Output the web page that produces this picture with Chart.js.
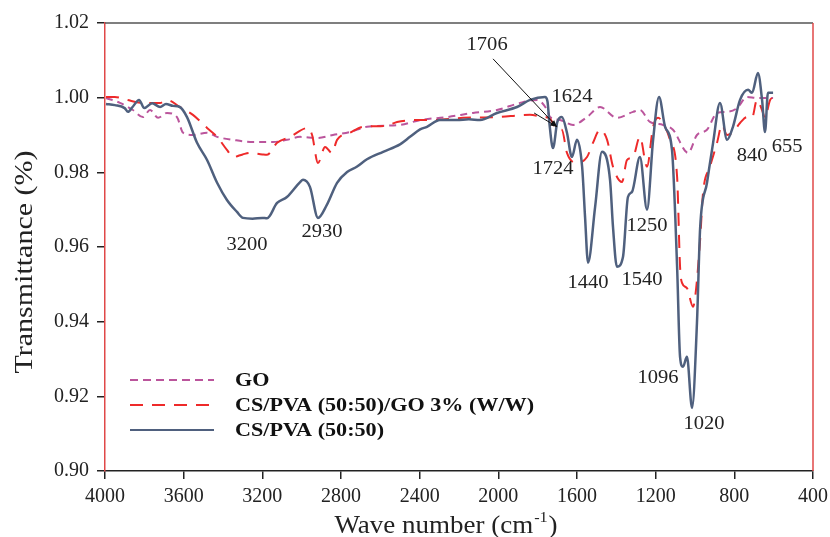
<!DOCTYPE html>
<html>
<head>
<meta charset="utf-8">
<title>FTIR spectra</title>
<script src="https://cdn.jsdelivr.net/npm/chart.js@4.4.1/dist/chart.umd.min.js"></script>
<style>
  html, body { margin: 0; padding: 0; background: #fff; }
  canvas { display: block; }
</style>
</head>
<body>
<canvas id="myChart" width="830" height="537"></canvas>
<script>
'use strict';

// Data

let xTicks = [4000, 3600, 3200, 2800, 2400, 2000, 1600, 1200, 800, 400];
let yTicks = [0.90, 0.92, 0.94, 0.96, 0.98, 1.00, 1.02];

let seriesNames = ['GO', 'CS/PVA (50:50)/GO 3% (W/W)', 'CS/PVA (50:50)'];

// GO
let goWn = [3995, 3924, 3858, 3807, 3771, 3730, 3685, 3634, 3603, 3553, 3481, 3430, 3349, 3247, 3146, 3075, 3008, 2922, 2841, 2754, 2668, 2500, 2398, 2261, 2129, 2007, 1890, 1803, 1752, 1737, 1686, 1620, 1549, 1483, 1397, 1315, 1280, 1229, 1162, 1112, 1035, 990, 939, 888, 837, 786, 736, 685, 603];
let goT = [0.9999, 0.9986, 0.9967, 0.9948, 0.9967, 0.9946, 0.9959, 0.9948, 0.9906, 0.9900, 0.9906, 0.9895, 0.9887, 0.9881, 0.9881, 0.9887, 0.9895, 0.9892, 0.9900, 0.9908, 0.9922, 0.9927, 0.9940, 0.9948, 0.9959, 0.9967, 0.9986, 0.9994, 0.9967, 0.9948, 0.9940, 0.9927, 0.9948, 0.9975, 0.9946, 0.9962, 0.9967, 0.9935, 0.9927, 0.9914, 0.9852, 0.9900, 0.9914, 0.9959, 0.9962, 0.9972, 1.0002, 0.9999, 0.9999];

// CS/PVA (50:50)/GO 3% (W/W)
let compWn = [3995, 3950, 3888, 3807, 3720, 3685, 3619, 3553, 3481, 3430, 3380, 3349, 3300, 3263, 3200, 3176, 3125, 3059, 2968, 2947, 2917, 2881, 2846, 2820, 2754, 2688, 2566, 2515, 2398, 2347, 2180, 2007, 1839, 1773, 1740, 1700, 1677, 1651, 1600, 1549, 1519, 1483, 1447, 1417, 1371, 1346, 1315, 1280, 1244, 1213, 1188, 1162, 1127, 1091, 1076, 1066, 1041, 1010, 995, 974, 959, 924, 888, 863, 837, 807, 771, 736, 710, 685, 659, 644, 618, 593];
let compT = [1.0002, 1.0002, 0.9994, 0.9986, 0.9986, 0.9994, 0.9975, 0.9954, 0.9919, 0.9895, 0.9860, 0.9841, 0.9848, 0.9852, 0.9848, 0.9847, 0.9879, 0.9895, 0.9919, 0.9900, 0.9825, 0.9868, 0.9852, 0.9887, 0.9906, 0.9922, 0.9925, 0.9935, 0.9940, 0.9940, 0.9946, 0.9948, 0.9954, 0.9948, 0.9945, 0.9915, 0.9914, 0.9852, 0.9825, 0.9841, 0.9879, 0.9914, 0.9887, 0.9815, 0.9774, 0.9833, 0.9841, 0.9895, 0.9815, 0.9922, 0.9946, 0.9932, 0.9887, 0.9788, 0.9547, 0.9504, 0.9490, 0.9440, 0.9485, 0.9619, 0.9745, 0.9815, 0.9879, 0.9927, 0.9900, 0.9908, 0.9932, 0.9948, 0.9946, 0.9994, 0.9967, 0.9946, 0.9994, 1.0002];

// CS/PVA (50:50)
let blendWn = [3995, 3950, 3900, 3883, 3860, 3827, 3800, 3760, 3720, 3690, 3654, 3620, 3583, 3532, 3481, 3430, 3380, 3329, 3298, 3250, 3200, 3176, 3125, 3075, 3008, 2993, 2958, 2917, 2872, 2820, 2769, 2720, 2668, 2586, 2500, 2449, 2398, 2363, 2297, 2210, 2150, 2093, 2007, 1905, 1839, 1763, 1750, 1740, 1722, 1700, 1677, 1651, 1626, 1600, 1574, 1559, 1544, 1508, 1473, 1432, 1417, 1397, 1366, 1341, 1320, 1280, 1244, 1213, 1183, 1152, 1117, 1091, 1076, 1061, 1041, 1015, 990, 974, 939, 908, 873, 837, 807, 771, 730, 710, 680, 659, 644, 629, 603];
let blendT = [0.9983, 0.9980, 0.9972, 0.9962, 0.9975, 0.9994, 0.9972, 0.9985, 0.9975, 0.9983, 0.9978, 0.9975, 0.9948, 0.9879, 0.9833, 0.9772, 0.9726, 0.9694, 0.9678, 0.9676, 0.9678, 0.9677, 0.9718, 0.9734, 0.9774, 0.9780, 0.9761, 0.9678, 0.9713, 0.9772, 0.9801, 0.9815, 0.9835, 0.9855, 0.9875, 0.9895, 0.9915, 0.9922, 0.9940, 0.9940, 0.9942, 0.9940, 0.9959, 0.9975, 0.9994, 1.0002, 0.9990, 0.9930, 0.9865, 0.9935, 0.9948, 0.9906, 0.9841, 0.9887, 0.9815, 0.9680, 0.9558, 0.9707, 0.9855, 0.9780, 0.9654, 0.9547, 0.9574, 0.9734, 0.9748, 0.9841, 0.9700, 0.9887, 1.0002, 0.9922, 0.9860, 0.9547, 0.9306, 0.9279, 0.9306, 0.9169, 0.9397, 0.9650, 0.9772, 0.9879, 0.9986, 0.9887, 0.9922, 0.9994, 1.0021, 1.0013, 1.0066, 0.9994, 0.9908, 1.0013, 1.0013];

// Peak labels: [text, wave number, transmittance]
let peakLabels = [
  ['1706', 2057, 1.0141],
  ['1624', 1625, 1.0002],
  ['1724', 1722, 0.9809],
  ['1250', 1244, 0.9657],
  ['840', 710, 0.9844],
  ['655', 532, 0.9868],
  ['1440', 1544, 0.9504],
  ['1540', 1269, 0.9512],
  ['1096', 1188, 0.9250],
  ['1020', 954, 0.9127],
  ['3200', 3278, 0.9606],
  ['2930', 2897, 0.9641]
];

// Arrows from the 1706 label: [fromWn, fromT, toWn, toT]
let arrows = [
  [2027, 1.0104, 1702, 0.9922],
  [1818, 0.9959, 1702, 0.9922]
];

let serif = '"Liberation Serif", "Times New Roman", serif';
let goColor = '#bb559c';
let compColor = '#ee2a2a';
let blendColor = '#4f607e';

function toPoints(wn, t) {
  let pts = [];
  for (let i = 0; i < wn.length; i++) {
    pts.push({ x: wn[i], y: t[i] });
  }
  return pts;
}

// the reference text is a bit wider than the font, so stretch it
function wideText(ctx, text, x, y, sx) {
  ctx.save();
  ctx.translate(x, y);
  ctx.scale(sx, 1);
  ctx.fillText(text, 0, 0);
  ctx.restore();
}

// Plugins

let framePlugin = {
  id: 'frame',
  afterDraw(chart) {
    let ctx = chart.ctx;
    let a = chart.chartArea;
    ctx.save();
    ctx.lineWidth = 1.5;
    ctx.strokeStyle = '#555';
    ctx.beginPath();
    ctx.moveTo(a.left, a.top);
    ctx.lineTo(a.right, a.top);
    ctx.stroke();
    ctx.strokeStyle = '#e04848';
    ctx.beginPath();
    ctx.moveTo(a.right, a.top);
    ctx.lineTo(a.right, a.bottom);
    ctx.stroke();
    ctx.restore();
  }
};

let labelPlugin = {
  id: 'peakLabels',
  afterDatasetsDraw(chart) {
    let ctx = chart.ctx;
    let xs = chart.scales.x;
    let ys = chart.scales.y;
    ctx.save();
    ctx.fillStyle = '#222';
    ctx.font = '19px ' + serif;
    ctx.textAlign = 'center';
    ctx.textBaseline = 'middle';
    for (let i = 0; i < peakLabels.length; i++) {
      let p = peakLabels[i];
      wideText(ctx, p[0], xs.getPixelForValue(p[1]), ys.getPixelForValue(p[2]), 1.08);
    }
    ctx.strokeStyle = '#111';
    ctx.lineWidth = 1;
    for (let i = 0; i < arrows.length; i++) {
      let r = arrows[i];
      let x1 = xs.getPixelForValue(r[0]);
      let y1 = ys.getPixelForValue(r[1]);
      let x2 = xs.getPixelForValue(r[2]);
      let y2 = ys.getPixelForValue(r[3]);
      ctx.beginPath();
      ctx.moveTo(x1, y1);
      ctx.lineTo(x2, y2);
      ctx.stroke();
      let ang = Math.atan2(y2 - y1, x2 - x1);
      ctx.beginPath();
      ctx.moveTo(x2, y2);
      ctx.lineTo(x2 - 7 * Math.cos(ang - 0.35), y2 - 7 * Math.sin(ang - 0.35));
      ctx.lineTo(x2 - 7 * Math.cos(ang + 0.35), y2 - 7 * Math.sin(ang + 0.35));
      ctx.closePath();
      ctx.fillStyle = '#111';
      ctx.fill();
    }
    ctx.restore();
  }
};

let legendPlugin = {
  id: 'insideLegend',
  afterDraw(chart) {
    let ctx = chart.ctx;
    let styles = [
      { color: goColor, dash: [8, 5], width: 2 },
      { color: compColor, dash: [13, 9], width: 2 },
      { color: blendColor, dash: [], width: 2 }
    ];
    ctx.save();
    ctx.font = 'bold 18px ' + serif;
    ctx.textBaseline = 'middle';
    ctx.fillStyle = '#111';
    for (let i = 0; i < seriesNames.length; i++) {
      let y = 380 + i * 25;
      ctx.strokeStyle = styles[i].color;
      ctx.lineWidth = styles[i].width;
      ctx.setLineDash(styles[i].dash);
      ctx.beginPath();
      ctx.moveTo(130, y);
      ctx.lineTo(214, y);
      ctx.stroke();
      wideText(ctx, seriesNames[i], 235, y + 1, 1.23);
    }
    ctx.restore();
  }
};

let titlePlugin = {
  id: 'axisTitles',
  afterDraw(chart) {
    let ctx = chart.ctx;
    ctx.save();
    ctx.fillStyle = '#222';
    ctx.font = '25px ' + serif;
    ctx.textAlign = 'center';
    ctx.textBaseline = 'middle';
    ctx.translate(25, 262);
    ctx.rotate(-Math.PI / 2);
    ctx.scale(1.2, 1);
    ctx.fillText('Transmittance (%)', 0, 0);
    ctx.restore();

    // x title with superscript
    ctx.save();
    ctx.fillStyle = '#222';
    ctx.textBaseline = 'alphabetic';
    let sx = 1.08;
    let main = 'Wave number (cm';
    let sup = '-1';
    let close = ')';
    ctx.font = '25px ' + serif;
    let w1 = ctx.measureText(main).width * sx;
    let w3 = ctx.measureText(close).width * sx;
    ctx.font = '15px ' + serif;
    let w2 = ctx.measureText(sup).width * sx + 2;
    let total = w1 + w2 + w3;
    let x0 = 446 - total / 2;
    let base = 533;
    ctx.font = '25px ' + serif;
    wideText(ctx, main, x0, base, sx);
    ctx.font = '15px ' + serif;
    wideText(ctx, sup, x0 + w1 + 1, base - 11, sx);
    ctx.font = '25px ' + serif;
    wideText(ctx, close, x0 + w1 + w2, base, sx);
    ctx.restore();
  }
};

// Render chart

const ctx = document.getElementById('myChart').getContext('2d');
const myChart = new Chart(ctx, {
  type: 'line',
  data: {
    datasets: [
      {
        label: seriesNames[2],
        data: toPoints(blendWn, blendT),
        borderColor: blendColor,
        borderWidth: 2.5,
        pointRadius: 0,
        cubicInterpolationMode: 'monotone',
        fill: false
      },
      {
        label: seriesNames[1],
        data: toPoints(compWn, compT),
        borderColor: compColor,
        borderWidth: 2,
        borderDash: [13, 9],
        pointRadius: 0,
        cubicInterpolationMode: 'monotone',
        fill: false
      },
      {
        label: seriesNames[0],
        data: toPoints(goWn, goT),
        borderColor: goColor,
        borderWidth: 2,
        borderDash: [7, 5],
        pointRadius: 0,
        cubicInterpolationMode: 'monotone',
        fill: false
      }
    ]
  },
  options: {
    responsive: false,
    animation: false,
    layout: { padding: { top: 23, right: 17, left: 0, bottom: 0 } },
    plugins: {
      legend: { display: false },
      tooltip: { enabled: false }
    },
    scales: {
      x: {
        type: 'linear',
        reverse: true,
        min: 400,
        max: 4000,
        afterBuildTicks(scale) {
          scale.ticks = xTicks.map(v => ({ value: v }));
        },
        afterFit(scale) {
          scale.height = 66;
          scale.paddingLeft = 0;
          scale.paddingRight = 0;
        },
        ticks: {
          color: '#222',
          padding: 6,
          font: { family: serif, size: 20 },
          maxRotation: 0,
          autoSkip: false,
          callback: v => String(v)
        },
        grid: {
          drawOnChartArea: false,
          drawTicks: true,
          tickLength: 8,
          color: '#222',
          lineWidth: 1.5
        },
        border: { color: '#222', width: 1.5 }
      },
      y: {
        min: 0.90,
        max: 1.02,
        afterBuildTicks(scale) {
          scale.ticks = yTicks.map(v => ({ value: v }));
        },
        afterFit(scale) {
          scale.width = 105;
        },
        ticks: {
          color: '#222',
          padding: 8,
          font: { family: serif, size: 20 },
          callback: v => v.toFixed(2)
        },
        grid: {
          drawOnChartArea: false,
          drawTicks: true,
          tickLength: 8,
          color: '#222',
          lineWidth: 1.5
        },
        border: { color: '#e04848', width: 1.5 }
      }
    }
  },
  plugins: [framePlugin, labelPlugin, legendPlugin, titlePlugin]
});
</script>
</body>
</html>
